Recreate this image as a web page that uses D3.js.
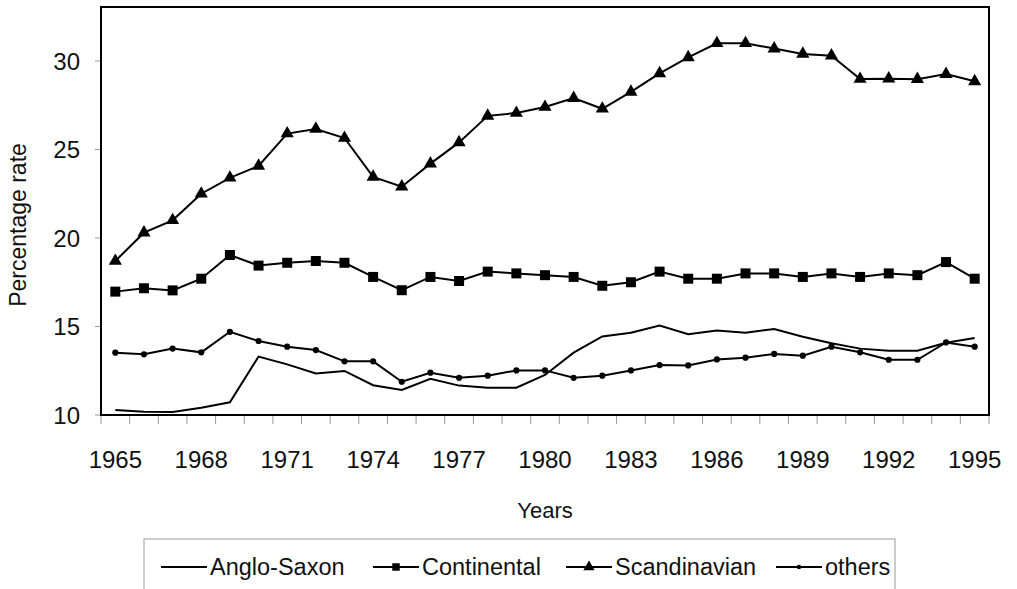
<!DOCTYPE html>
<html>
<head>
<meta charset="utf-8">
<script src="https://cdn.jsdelivr.net/npm/d3@7"></script>
<style>
  html, body { margin: 0; padding: 0; background: #fff; }
  svg { display: block; font-family: "Liberation Sans", Arial, Helvetica, sans-serif; }
</style>
</head>
<body>
<svg id="chart" width="1017" height="589"></svg>
<script>
const years = d3.range(1965, 1996);
const yearLabels = [1965, 1968, 1971, 1974, 1977, 1980, 1983, 1986, 1989, 1992, 1995];
const yTicks = [10, 15, 20, 25, 30];

const angloSaxon = [10.28, 10.19, 10.17, 10.41, 10.72, 13.3, 12.86, 12.35, 12.49, 11.68, 11.41,
  12.05, 11.66, 11.54, 11.54, 12.26, 13.52, 14.44, 14.65, 15.06, 14.56,
  14.78, 14.65, 14.86, 14.42, 14.05, 13.75, 13.63, 13.63, 14.08, 14.35];
const continental = [16.97, 17.16, 17.04, 17.7, 19.04, 18.44, 18.6, 18.7, 18.6, 17.8, 17.05,
  17.8, 17.57, 18.1, 18.0, 17.9, 17.8, 17.3, 17.5, 18.1, 17.7,
  17.7, 18.0, 18.0, 17.8, 18.0, 17.8, 18.0, 17.9, 18.64, 17.7];
const scandinavian = [18.7, 20.3, 21.0, 22.5, 23.4, 24.07, 25.9, 26.16, 25.65, 23.45, 22.9,
  24.2, 25.4, 26.9, 27.06, 27.4, 27.9, 27.3, 28.25, 29.3, 30.2,
  31.0, 31.0, 30.7, 30.4, 30.3, 28.98, 29.0, 28.97, 29.26, 28.85];
const others = [13.52, 13.43, 13.75, 13.54, 14.7, 14.18, 13.86, 13.67, 13.03, 13.03, 11.88,
  12.39, 12.1, 12.22, 12.52, 12.52, 12.1, 12.22, 12.52, 12.82, 12.8,
  13.14, 13.24, 13.45, 13.35, 13.86, 13.54, 13.12, 13.12, 14.1, 13.86];

const seriesNames = ["Anglo-Saxon", "Continental", "Scandinavian", "others"];
const seriesValues = [angloSaxon, continental, scandinavian, others];
const seriesMarkers = ["none", "square", "triangle", "circle"];

(function () {
const svg = d3.select("#chart");
const pL = 101, pR = 989, pT = 7, pB = 415;

const x = d3.scaleBand().domain(years).range([pL, pR]).padding(0);
const y = d3.scaleLinear().domain([10, 33.05]).range([pB, pT]);
const xc = d => x(d) + x.bandwidth() / 2;

// tick marks (grey) at category boundaries
const gTicks = svg.append("g");
const boundaries = years.map(d => x(d)).concat([x.range()[1]]);
gTicks.selectAll("line.xt").data(boundaries).join("line")
  .attr("x1", d => d).attr("x2", d => d)
  .attr("y1", pB).attr("y2", pB + 9)
  .attr("stroke", "#999").attr("stroke-width", 1);
gTicks.selectAll("line.yt").data(yTicks).join("line")
  .attr("x1", pL - 6).attr("x2", pL)
  .attr("y1", d => y(d)).attr("y2", d => y(d))
  .attr("stroke", "#999").attr("stroke-width", 1);

// tick labels
svg.append("g").selectAll("text").data(yTicks).join("text")
  .attr("x", 80).attr("y", d => y(d))
  .attr("dy", "0.36em")
  .attr("text-anchor", "end")
  .attr("font-size", 24)
  .attr("fill", "#111")
  .text(d => d);
svg.append("g").selectAll("text").data(yearLabels).join("text")
  .attr("x", d => xc(d)).attr("y", 468)
  .attr("text-anchor", "middle")
  .attr("font-size", 24)
  .attr("fill", "#111")
  .text(d => d);

// axis titles
svg.append("text")
  .attr("transform", "translate(26,225) rotate(-90)")
  .attr("text-anchor", "middle")
  .attr("font-size", 23)
  .attr("fill", "#111")
  .text("Percentage rate");
svg.append("text")
  .attr("x", (pL + pR) / 2).attr("y", 518)
  .attr("text-anchor", "middle")
  .attr("font-size", 22)
  .attr("fill", "#111")
  .text("Years");

// frame
svg.append("rect")
  .attr("x", pL).attr("y", pT)
  .attr("width", pR - pL).attr("height", pB - pT)
  .attr("fill", "none").attr("stroke", "#000").attr("stroke-width", 2);

// series
const line = d3.line().x((d, i) => xc(years[i])).y(d => y(d));
const symbolFor = {
  square: d3.symbol().type(d3.symbolSquare).size(100),
  triangle: d3.symbol().type(d3.symbolTriangle).size(75),
  circle: d3.symbol().type(d3.symbolCircle).size(30)
};
seriesValues.forEach((vals, si) => {
  const g = svg.append("g");
  g.append("path").datum(vals)
    .attr("d", line)
    .attr("fill", "none").attr("stroke", "#000").attr("stroke-width", 2)
    .attr("stroke-linejoin", "miter");
  const m = seriesMarkers[si];
  if (m !== "none") {
    g.selectAll("path.mk").data(vals).join("path")
      .attr("class", "mk")
      .attr("d", symbolFor[m]())
      .attr("transform", (d, i) => `translate(${xc(years[i])},${y(d)})`)
      .attr("fill", "#000");
  }
});

// legend
const lg = svg.append("g");
lg.append("rect").attr("x", 144).attr("y", 539).attr("width", 751).attr("height", 70)
  .attr("fill", "#fff").attr("stroke", "#999").attr("stroke-width", 1);
const legendX = [161, 373, 566, 776];
const legendSym = {
  square: d3.symbol().type(d3.symbolSquare).size(56),
  triangle: d3.symbol().type(d3.symbolTriangle).size(55),
  circle: d3.symbol().type(d3.symbolCircle).size(16)
};
seriesNames.forEach((name, i) => {
  const x0 = legendX[i];
  lg.append("line").attr("x1", x0).attr("x2", x0 + 46)
    .attr("y1", 567).attr("y2", 567).attr("stroke", "#000").attr("stroke-width", 2);
  if (seriesMarkers[i] !== "none") {
    lg.append("path").attr("d", legendSym[seriesMarkers[i]]())
      .attr("transform", `translate(${x0 + 23},567)`).attr("fill", "#000");
  }
  lg.append("text").attr("x", x0 + 49).attr("y", 575)
    .attr("font-size", 23.5).attr("fill", "#111").text(name);
});
})();
</script>
</body>
</html>
